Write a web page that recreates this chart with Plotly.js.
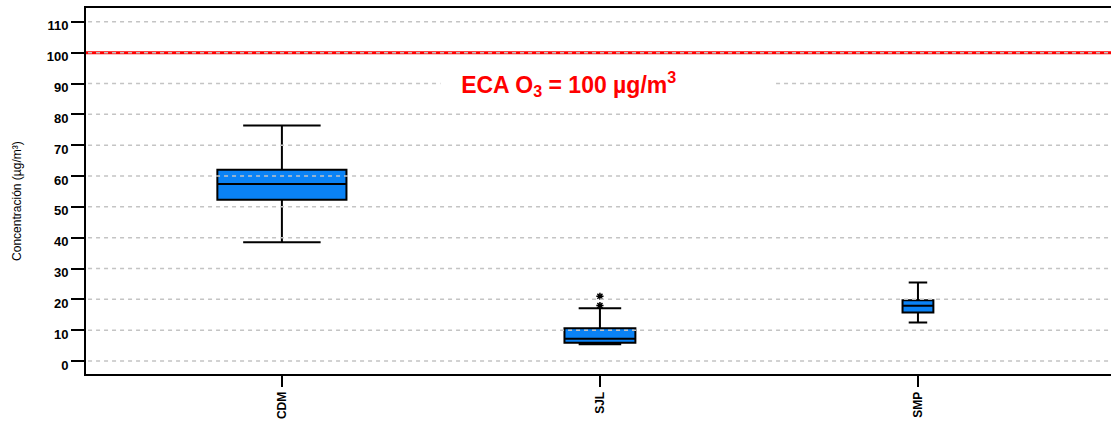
<!DOCTYPE html>
<html>
<head>
<meta charset="utf-8">
<script src="https://cdn.plot.ly/plotly-3.0.1.min.js"></script>
<style>html,body{margin:0;padding:0;background:#fff;}#chart{width:1111px;height:430px;}</style>
</head>
<body>
<div id="chart"></div>
<script>
// ---- data ----
const stations   = ['CDM', 'SJL', 'SMP'];
const lowerFence = [38.5, 5.4, 12.5];
const q1         = [52.3, 5.9, 15.7];
const medians    = [57.4, 7.2, 17.9];
const q3         = [62.0, 10.6, 19.7];
const upperFence = [76.4, 17.1, 25.5];
const outlierStation = ['SJL', 'SJL'];
const outlierValues  = [21.0, 18.0];
const ecaLimit = 100;
const yTicks = [0, 10, 20, 30, 40, 50, 60, 70, 80, 90, 100, 110];

// ---- styling ----
const boxWidths = [0.406, 0.223, 0.097];
const font = 'Arial, "Liberation Sans", sans-serif';

const traces = stations.map((s, i) => ({
  type: 'box',
  x: [s],
  q1: [q1[i]],
  median: [medians[i]],
  q3: [q3[i]],
  lowerfence: [lowerFence[i]],
  upperfence: [upperFence[i]],
  width: boxWidths[i],
  whiskerwidth: 0.6,
  fillcolor: '#0a82f5',
  line: {color: '#000', width: 2},
  boxpoints: false,
  hoverinfo: 'skip',
  showlegend: false
}));

traces.push({
  type: 'scatter',
  mode: 'markers',
  x: outlierStation,
  y: outlierValues,
  marker: {symbol: 'asterisk-open', size: 6, color: '#000', line: {color: '#000', width: 1.5}},
  hoverinfo: 'skip',
  showlegend: false
});

const shapes = [{
  type: 'line', xref: 'paper', x0: 0, x1: 1, yref: 'y', y0: ecaLimit, y1: ecaLimit,
  line: {color: '#ff0000', width: 3}, layer: 'above'
}];
yTicks.forEach(v => shapes.push({
  type: 'line', xref: 'paper', x0: 0.002, x1: 1, yref: 'y', y0: v, y1: v,
  line: {color: '#c4c4c4', width: 1.5, dash: '4px,4px'}, layer: 'above'
}));

const layout = {
  width: 1111, height: 430,
  margin: {l: 86, r: 0, t: 8, b: 56},
  paper_bgcolor: '#fff', plot_bgcolor: '#fff',
  showlegend: false,
  xaxis: {
    type: 'category',
    categoryorder: 'array', categoryarray: stations,
    range: [-0.616, 2.607],
    showgrid: false, zeroline: false,
    showline: true, linecolor: '#000', linewidth: 2, mirror: true,
    ticks: 'outside', ticklen: 11, tickwidth: 2, tickcolor: '#000',
    tickangle: -90,
    tickfont: {family: font, size: 12, color: '#000', weight: 'bold'}
  },
  yaxis: {
    range: [-4.22, 114.5],
    tickvals: yTicks,
    ticktext: yTicks.map(String),
    showgrid: false, zeroline: false,
    showline: true, linecolor: '#000', linewidth: 2,
    ticks: 'outside', ticklen: 13, tickwidth: 2, tickcolor: '#000',
    ticklabelshift: 4,
    tickfont: {family: font, size: 13, color: '#000', weight: 'bold'}
  },
  shapes: shapes,
  annotations: [{
    xref: 'paper', yref: 'y', x: 0.345, y: 90, xanchor: 'left', yanchor: 'middle',
    text: '&nbsp;&nbsp;&nbsp;ECA O<sub>3</sub> = 100 µg/m<sup>3</sup>',
    showarrow: false, align: 'left', width: 330,
    bgcolor: '#fff', borderpad: 1,
    font: {family: font, size: 23, color: '#ff0000', weight: 'bold'}
  }, {
    xref: 'paper', yref: 'paper', x: -0.0673, y: 0.473, xanchor: 'center', yanchor: 'middle',
    text: 'Concentración (µg/m³)', textangle: -90, showarrow: false,
    font: {family: font, size: 12, color: '#000'}
  }]
};

Plotly.newPlot('chart', traces, layout, {staticPlot: true, displayModeBar: false});
</script>
</body>
</html>
